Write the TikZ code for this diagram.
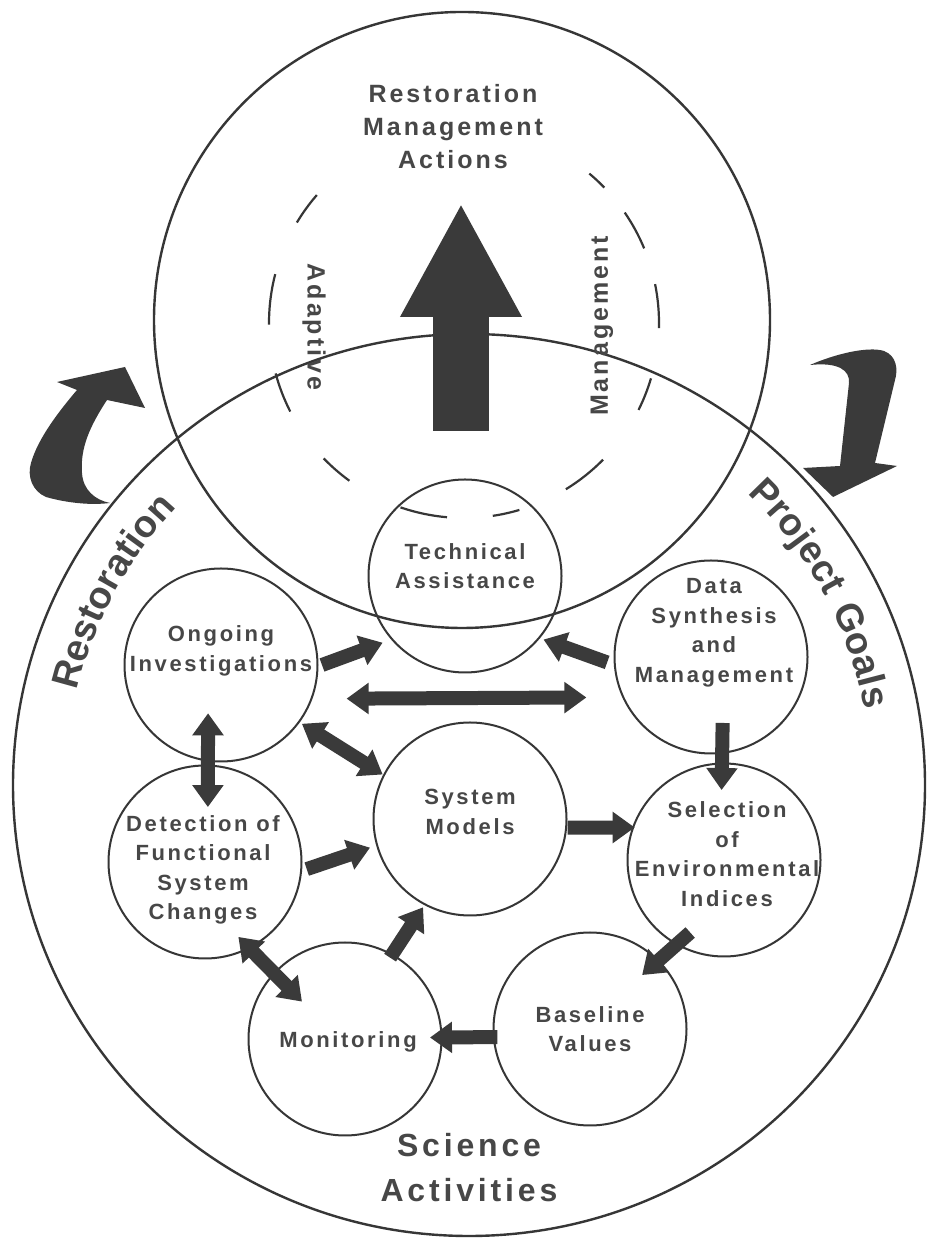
\documentclass[tikz,border=0pt]{standalone}
\usepackage{fontspec}
\setmainfont{Liberation Sans}[LetterSpace=12]
\usetikzlibrary{arrows.meta,calc,decorations.text}
\definecolor{linegray}{HTML}{363636}
\definecolor{arrowgray}{HTML}{3A3A3A}
\definecolor{textgray}{HTML}{474747}
\begin{document}
\begin{tikzpicture}[x=1pt,y=1pt,
    bigline/.style={draw=linegray,line width=2.4pt},
    dashline/.style={draw=linegray,line width=2.2pt},
    bubble/.style={circle,draw=linegray,line width=2pt,minimum size=193pt,inner sep=0pt},
    boxtext/.style={align=center,text=textgray,font=\fontsize{22}{29.5}\selectfont\bfseries},
    headtext/.style={align=center,text=textgray,font=\fontsize{25}{33}\selectfont\bfseries},
    onearrow/.style={draw=arrowgray,line width=14pt,-{Triangle[length=22pt,width=30pt]}},
    bothways/.style={onearrow,{Triangle[length=22pt,width=30pt]}-{Triangle[length=22pt,width=30pt]}},
    bigarrow/.style={draw=arrowgray,line width=56pt,-{Triangle[length=114pt,width=113pt]}},
    roundtext/.style={decorate,decoration={text along path,text align=center,text color=textgray,
      text={|\fontsize{38}{42}\selectfont\bfseries|#1}}}]
  \useasboundingbox (0,0) rectangle (926,1238);
  \fill[white] (0,0) rectangle (926,1238);
  \coordinate (actions) at (462,918);
  \coordinate (adapt) at (464,915);
  \coordinate (goals) at (469,453);
  \draw[bigline] (goals) ellipse [x radius=456, y radius=451];
  \draw[bigline] (actions) circle [radius=308];
  \foreach \ang/\half in {47/3,28.5/6,5/6.5,-21.5/5,-51.5/7,-77.5/4,-102/7,-131/5,-159/6,173/7.5,144/5}
    \draw[dashline] ($(adapt)+({\ang-\half}:195)$) arc [start angle=\ang-\half, end angle=\ang+\half, radius=195];

  \node[headtext] (title) at (453,1111) {Restoration\\Management\\Actions};
  \node[headtext,rotate=-90] (adaptive) at (314,911) {Adaptive};
  \node[headtext,rotate=90] (management) at (602,912) {Management};
  \node[align=center,text=textgray,font=\fontsize{32}{45}\selectfont\bfseries] (science) at (469,70) {Science\\Activities};
  \path[roundtext=Restoration] ($(goals)+(180:403)$) arc [start angle=180, end angle=123, radius=403];
  \path[roundtext=Project Goals] ($(goals)+(57:403)$) arc [start angle=57, end angle=0, radius=403];

  \node[bubble,label={[boxtext,yshift=10pt]center:Technical\\Assistance}] (tech) at (465,662) {};
  \node[bubble,label={[boxtext,yshift=14pt]center:Ongoing\\Investigations}] (ongoing) at (221,573) {};
  \node[bubble,label={[boxtext,xshift=3pt,yshift=24pt]center:Data\\Synthesis\\and\\Management}] (data) at (711,581) {};
  \node[bubble,label={[boxtext,yshift=7pt]center:System\\Models}] (models) at (470,419) {};
  \node[bubble,label={[boxtext,xshift=-2pt,yshift=-8pt]center:Detection of\\Functional\\System\\Changes}] (detect) at (205,376) {};
  \node[bubble,label={[boxtext,xshift=3pt,yshift=6pt]center:Selection\\of\\Environmental\\Indices}] (select) at (724,378) {};
  \node[bubble,label={[boxtext]center:Baseline\\Values}] (base) at (590,209) {};
  \node[bubble,label={[boxtext,xshift=3pt,yshift=-3pt]center:Monitoring}] (monitor) at (345,199) {};

  \coordinate (arrowfoot) at (461,807);
  \coordinate (arrowtip) at (461,1035);
  \draw[bigarrow] (arrowfoot) -- (arrowtip);

  \draw[onearrow] ($(ongoing)+(0:101)$) -- ($(tech)+(219:106)$);
  \draw[onearrow] ($(data)+(183:104)$) -- ($(tech)+(-39:101)$);
  \draw[bothways] ($(ongoing)+(-15:130)$) -- ($(data)+(198:131)$);
  \draw[bothways] ($(ongoing)+(-36:100)$) -- ($(models)+(153:98)$);
  \draw[bothways] ($(ongoing)+(255:50)$) -- ($(detect)+(87:55)$);
  \draw[onearrow] ($(detect)+(-4:102)$) -- ($(models)+(196:104)$);
  \draw[onearrow] ($(data)+(-80:67)$) -- ($(select)+(92:70)$);
  \draw[onearrow] ($(models)+(-5:98)$) -- ($(select)+(160:95)$);
  \draw[onearrow] ($(select)+(245:80)$) -- ($(base)+(46:75)$);
  \draw[onearrow] ($(base)+(185:93)$) -- ($(monitor)+(1:85)$);
  \draw[bothways] ($(detect)+(-66:82)$) -- ($(monitor)+(139:57)$);
  \draw[onearrow] ($(monitor)+(61:93)$) -- ($(models)+(242:100)$);

  \fill[arrowgray] (125,871) -- (145,830) -- (107,838) .. controls (90,812) and (80,790) .. (82,765)
    .. controls (83,748) and (95,738) .. (110,735) .. controls (85,732) and (60,737) .. (46,741)
    .. controls (32,747) and (27,762) .. (31,775) .. controls (38,800) and (60,828) .. (77,848)
    -- (57,856) -- cycle;
  \fill[arrowgray] (810,873) .. controls (835,884) and (868,892) .. (884,887)
    .. controls (897,882) and (898,868) .. (895,858) -- (875,775) -- (897,772) -- (833,741)
    -- (803,770) -- (840,772) -- (849,855) .. controls (850,868) and (838,876) .. (810,873) -- cycle;
\end{tikzpicture}
\end{document}
